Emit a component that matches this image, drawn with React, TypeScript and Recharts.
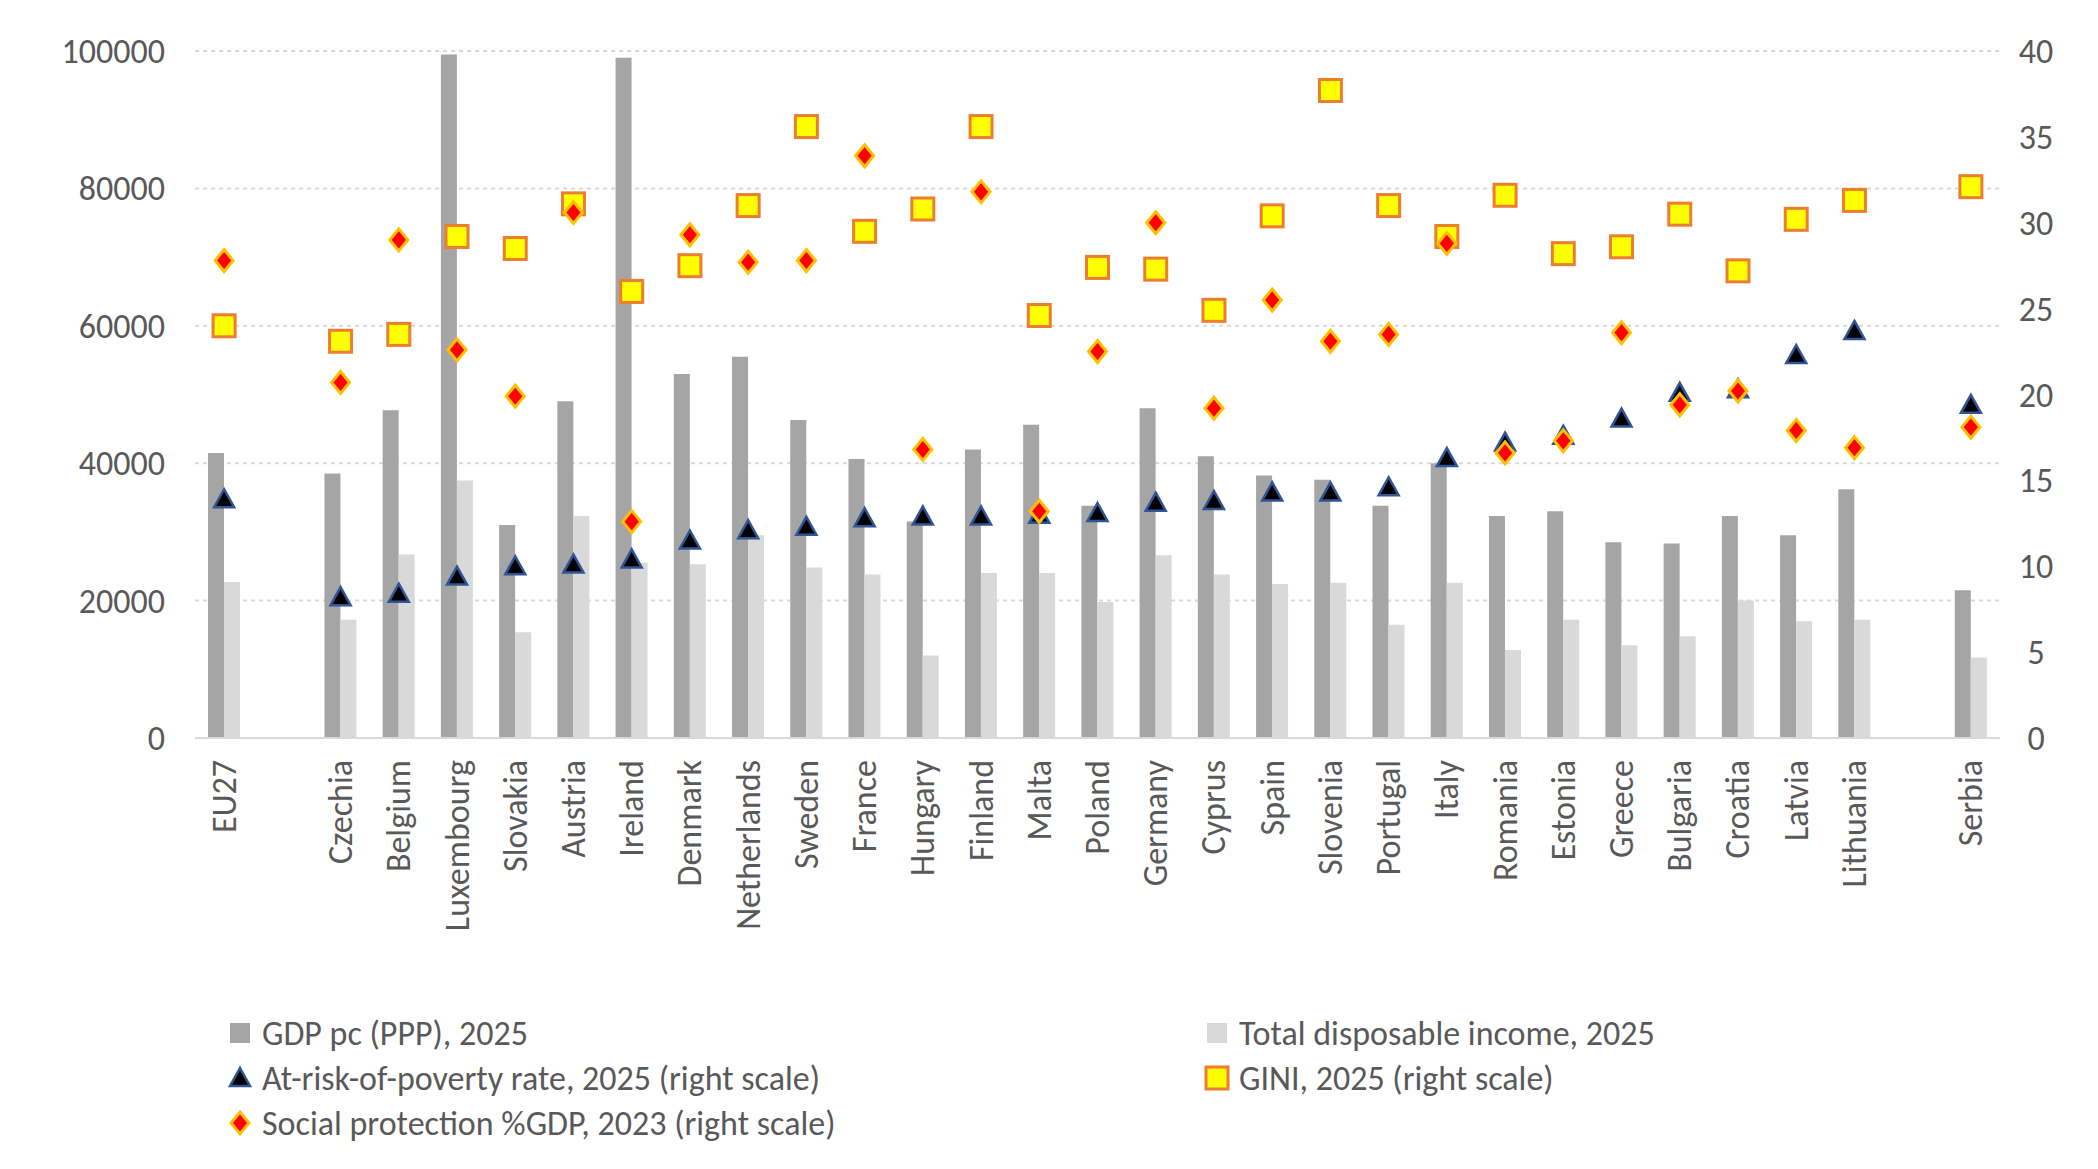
import { ComposedChart, Bar, Line, XAxis, YAxis, CartesianGrid, Legend } from 'recharts'

const countries = ['EU27', '', 'Czechia', 'Belgium', 'Luxembourg', 'Slovakia', 'Austria', 'Ireland', 'Denmark', 'Netherlands', 'Sweden', 'France', 'Hungary', 'Finland', 'Malta', 'Poland', 'Germany', 'Cyprus', 'Spain', 'Slovenia', 'Portugal', 'Italy', 'Romania', 'Estonia', 'Greece', 'Bulgaria', 'Croatia', 'Latvia', 'Lithuania', '', 'Serbia']
const gdp = [41500, null, 38500, 47700, 99500, 31000, 49000, 99000, 53000, 55500, 46300, 40600, 31500, 42000, 45600, 33800, 48000, 41000, 38200, 37600, 33800, 40000, 32300, 33000, 28500, 28300, 32300, 29500, 36200, null, 21500]
const income = [22700, null, 17200, 26700, 37500, 15400, 32300, 25500, 25300, 29500, 24800, 23800, 12000, 24000, 24000, 19800, 26600, 23800, 22400, 22600, 16500, 22600, 12800, 17200, 13500, 14800, 20000, 17000, 17200, null, 11700]
const poverty = [13.9, null, 8.2, 8.4, 9.4, 10.0, 10.1, 10.4, 11.5, 12.1, 12.3, 12.8, 12.9, 12.9, 13.0, 13.1, 13.7, 13.8, 14.3, 14.3, 14.6, 16.3, 17.2, 17.6, 18.6, 20.1, 20.3, 22.3, 23.7, null, 19.4]
const gini = [24.0, null, 23.1, 23.5, 29.2, 28.5, 31.1, 26.0, 27.5, 31.0, 35.6, 29.5, 30.8, 35.6, 24.6, 27.4, 27.3, 24.9, 30.4, 37.7, 31.0, 29.2, 31.6, 28.2, 28.6, 30.5, 27.2, 30.2, 31.3, null, 32.1]
const social = [27.8, null, 20.7, 29.0, 22.6, 19.9, 30.6, 12.6, 29.3, 27.7, 27.8, 33.9, 16.8, 31.8, 13.2, 22.5, 30.0, 19.2, 25.5, 23.1, 23.5, 28.8, 16.6, 17.3, 23.6, 19.4, 20.2, 17.9, 16.9, null, 18.1]

const leftTicks = [0, 20000, 40000, 60000, 80000, 100000]
const rightTicks = [0, 5, 10, 15, 20, 25, 30, 35, 40]

const data = countries.map((c, i) => ({
  name: c,
  gdp: gdp[i],
  income: income[i],
  poverty: poverty[i],
  gini: gini[i],
  social: social[i],
}))

const FONT = 'Calibri, Carlito, "Open Sans", sans-serif'
const TXT = '#595959'

const Triangle = ({ cx, cy }: any) => {
  if (cx == null || cy == null) return null
  return <path d={`M${cx},${cy - 10} L${cx + 10},${cy + 8} L${cx - 10},${cy + 8} Z`} fill="#000" stroke="#2f5597" strokeWidth={2.5} />
}
const Square = ({ cx, cy }: any) => {
  if (cx == null || cy == null) return null
  return <rect x={cx - 11} y={cy - 11} width={22} height={22} fill="#ffff00" stroke="#ed7d31" strokeWidth={3} />
}
const Diamond = ({ cx, cy }: any) => {
  if (cx == null || cy == null) return null
  return <path d={`M${cx},${cy - 11} L${cx + 9},${cy} L${cx},${cy + 11} L${cx - 9},${cy} Z`} fill="#ff0000" stroke="#ffc000" strokeWidth={3} />
}

const CatTick = ({ x, y, payload }: any) => (
  <text x={x} y={y + 14} transform={`rotate(-90, ${x}, ${y + 14})`} textAnchor="end" dominantBaseline="central" fill={TXT} fontSize={34} fontFamily={FONT}>
    {payload.value}
  </text>
)

const legendItems = [
  { label: 'GDP pc (PPP), 2025', icon: 'bar1', col: 0, row: 0 },
  { label: 'Total disposable income, 2025', icon: 'bar2', col: 1, row: 0 },
  { label: 'At-risk-of-poverty rate, 2025 (right scale)', icon: 'tri', col: 0, row: 1 },
  { label: 'GINI, 2025 (right scale)', icon: 'sq', col: 1, row: 1 },
  { label: 'Social protection %GDP, 2023 (right scale)', icon: 'dia', col: 0, row: 2 },
]

const LegendBox = () => (
  <svg width={2082} height={140} style={{ display: 'block' }}>
    {legendItems.map((it) => {
      const x = it.col === 0 ? 232 : 1209
      const y = 22 + it.row * 45
      let icon = null
      if (it.icon === 'bar1') icon = <rect x={x - 10} y={y - 10} width={20} height={20} fill="#a5a5a5" />
      if (it.icon === 'bar2') icon = <rect x={x - 10} y={y - 10} width={20} height={20} fill="#d9d9d9" />
      if (it.icon === 'tri') icon = <Triangle cx={x} cy={y} />
      if (it.icon === 'sq') icon = <Square cx={x} cy={y} />
      if (it.icon === 'dia') icon = <Diamond cx={x} cy={y} />
      return (
        <g key={it.label}>
          {icon}
          <text x={x + 22} y={y} dominantBaseline="central" fill={TXT} fontSize={34} fontFamily={FONT}>{it.label}</text>
        </g>
      )
    })}
  </svg>
)

export default function App() {
  return (
    <ComposedChart
      width={2082}
      height={1160}
      data={data}
      margin={{ top: 43, right: 0, left: 0, bottom: 0 }}
      barGap={0}
      barSize={16}
    >
      <CartesianGrid vertical={false} stroke="#d9d9d9" strokeDasharray="4 4" strokeWidth={2} yAxisId="left" />
      <XAxis dataKey="name" interval={0} tick={<CatTick />} tickLine={false} axisLine={{ stroke: '#d9d9d9', strokeWidth: 2 }} height={290} />
      <YAxis yAxisId="left" domain={[0, 100000]} ticks={leftTicks} width={187} tickLine={false} axisLine={false} tick={{ fill: TXT, fontSize: 34, fontFamily: FONT }} tickMargin={24} />
      <YAxis yAxisId="right" orientation="right" domain={[0, 40]} ticks={rightTicks} width={90} tickLine={false} axisLine={false} tick={{ fill: TXT, fontSize: 34, fontFamily: FONT, textAnchor: 'middle' }} tickMargin={30} />
      <Bar yAxisId="left" dataKey="gdp" fill="#a5a5a5" isAnimationActive={false} name="GDP pc (PPP), 2025" />
      <Bar yAxisId="left" dataKey="income" fill="#d9d9d9" isAnimationActive={false} name="Total disposable income, 2025" />
      <Line yAxisId="right" dataKey="poverty" stroke="none" dot={<Triangle />} activeDot={false} isAnimationActive={false} />
      <Line yAxisId="right" dataKey="gini" stroke="none" dot={<Square />} activeDot={false} isAnimationActive={false} />
      <Line yAxisId="right" dataKey="social" stroke="none" dot={<Diamond />} activeDot={false} isAnimationActive={false} />
      <Legend content={<LegendBox />} wrapperStyle={{ left: 0, top: 1003, width: 2082 }} />
    </ComposedChart>
  )
}
